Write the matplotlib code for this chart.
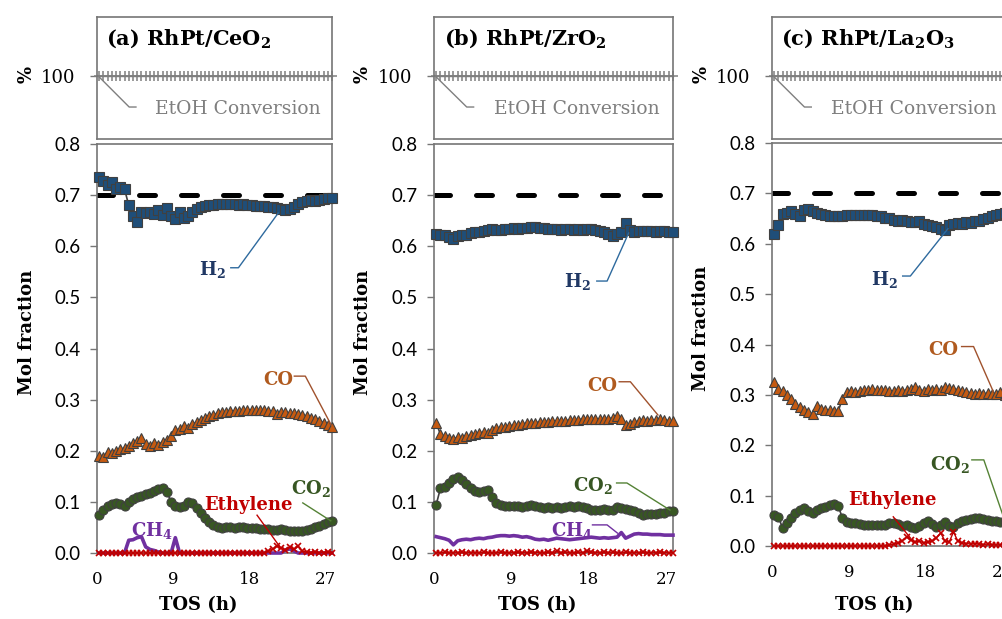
import numpy as np
import matplotlib
matplotlib.use('Agg')
import matplotlib.pyplot as plt

plt.rcParams['font.family'] = ['DejaVu Serif']
plt.rcParams['mathtext.default'] = 'regular'

# time on stream (h)
tos = [0.25, 0.75, 1.25, 1.75, 2.25, 2.75, 3.25, 3.75, 4.25, 4.75,
       5.25, 5.75, 6.25, 6.75, 7.25, 7.75, 8.25, 8.75, 9.25, 9.75,
       10.25, 10.75, 11.25, 11.75, 12.25, 12.75, 13.25, 13.75, 14.25, 14.75,
       15.25, 15.75, 16.25, 16.75, 17.25, 17.75, 18.25, 18.75, 19.25, 19.75,
       20.25, 20.75, 21.25, 21.75, 22.25, 22.75, 23.25, 23.75, 24.25, 24.75,
       25.25, 25.75, 26.25, 26.75, 27.25, 27.75]

# EtOH conversion (%), full conversion for all three catalysts
etoh_conv = [100, 100, 100, 100, 100, 100, 100, 100, 100, 100,
             100, 100, 100, 100, 100, 100, 100, 100, 100, 100,
             100, 100, 100, 100, 100, 100, 100, 100, 100, 100,
             100, 100, 100, 100, 100, 100, 100, 100, 100, 100,
             100, 100, 100, 100, 100, 100, 100, 100, 100, 100,
             100, 100, 100, 100, 100, 100]

# (a) RhPt/CeO2
h2_ce = [0.735, 0.728, 0.72, 0.725, 0.712, 0.715, 0.712, 0.68, 0.66, 0.648,
         0.668, 0.665, 0.667, 0.664, 0.67, 0.662, 0.675, 0.66, 0.653, 0.668,
         0.655, 0.66, 0.668, 0.673, 0.676, 0.678, 0.68, 0.681, 0.682, 0.683,
         0.683, 0.682, 0.682, 0.681, 0.682, 0.68, 0.68, 0.679, 0.678, 0.678,
         0.676, 0.677, 0.675, 0.672, 0.67, 0.672, 0.676, 0.682, 0.686, 0.688,
         0.69, 0.688, 0.69, 0.692, 0.694, 0.695]
co_ce = [0.19, 0.188, 0.198, 0.195, 0.2, 0.203, 0.205, 0.21, 0.215, 0.22,
         0.225, 0.213, 0.21, 0.215, 0.212, 0.218, 0.222, 0.228, 0.24, 0.243,
         0.248, 0.245, 0.252, 0.256, 0.26, 0.264, 0.268, 0.27, 0.273, 0.275,
         0.276, 0.277, 0.278, 0.278, 0.279, 0.279, 0.28, 0.279, 0.28, 0.279,
         0.278, 0.277, 0.272, 0.276, 0.275, 0.274, 0.273, 0.271, 0.27, 0.268,
         0.265, 0.262, 0.258, 0.255, 0.25, 0.246]
co2_ce = [0.075, 0.085, 0.092, 0.095, 0.098, 0.095, 0.092, 0.1, 0.105, 0.11,
          0.112, 0.115, 0.118, 0.122, 0.126, 0.127, 0.12, 0.1, 0.092, 0.09,
          0.092, 0.1, 0.098, 0.088, 0.078, 0.068, 0.06, 0.054, 0.05, 0.048,
          0.05, 0.05, 0.049, 0.05, 0.05, 0.049, 0.048, 0.049, 0.047, 0.046,
          0.046, 0.045, 0.045, 0.046, 0.045, 0.044, 0.044, 0.043, 0.044, 0.045,
          0.047, 0.05, 0.053, 0.057, 0.06, 0.062]
ch4_ce = [0, 0, 0, 0, 0, 0, 0, 0.025, 0.026, 0.03,
          0.032, 0.012, 0.007, 0.005, 0.002, 0, 0, 0, 0.03, 0,
          0, 0, 0, 0, 0, 0, 0, 0, 0, 0,
          0, 0, 0, 0, 0, 0, 0, 0, 0, 0,
          0, 0, 0, 0, 0.006, 0.008, 0.004, 0, 0, 0,
          0, 0, 0, 0, 0, 0]
eth_ce = [0, 0, 0, 0, 0, 0, 0, 0, 0, 0,
          0, 0, 0, 0, 0, 0, 0, 0, 0, 0,
          0, 0, 0, 0, 0, 0, 0, 0, 0, 0,
          0, 0, 0, 0, 0, 0, 0, 0, 0, 0,
          0.004, 0.008, 0.013, 0.009, 0.005, 0.012, 0.007, 0.013, 0.004, 0.002,
          0.001, 0.002, 0.0, 0.001, 0.002, 0.001]

# (b) RhPt/ZrO2
h2_zr = [0.625, 0.623, 0.622, 0.618, 0.614, 0.62, 0.622, 0.623, 0.626, 0.628,
         0.628, 0.63, 0.632, 0.633, 0.632, 0.632, 0.633, 0.634, 0.635, 0.634,
         0.635, 0.636, 0.637, 0.637, 0.635, 0.636, 0.634, 0.633, 0.634, 0.632,
         0.633, 0.634, 0.632, 0.633, 0.632, 0.634, 0.633, 0.632, 0.63, 0.628,
         0.625, 0.62, 0.624, 0.628, 0.645, 0.632, 0.627, 0.63, 0.63, 0.629,
         0.63, 0.628, 0.629, 0.63, 0.628, 0.628]
co_zr = [0.255, 0.232, 0.228, 0.225, 0.224, 0.226, 0.225, 0.228, 0.23, 0.233,
         0.235, 0.236, 0.235, 0.24, 0.244, 0.246, 0.247, 0.248, 0.25, 0.251,
         0.252, 0.254, 0.255, 0.255, 0.256, 0.257, 0.257, 0.258, 0.258, 0.258,
         0.259, 0.26, 0.26, 0.261, 0.262, 0.263, 0.262, 0.263, 0.262, 0.262,
         0.263, 0.264, 0.268, 0.262, 0.25, 0.252, 0.256, 0.258, 0.26, 0.259,
         0.261, 0.26, 0.262, 0.26, 0.259, 0.258]
co2_zr = [0.094, 0.127, 0.13, 0.137, 0.145, 0.148, 0.143, 0.135, 0.128, 0.122,
          0.12, 0.121, 0.123, 0.11, 0.098, 0.094, 0.092, 0.091, 0.092, 0.091,
          0.09, 0.092, 0.094, 0.092, 0.09, 0.089, 0.09, 0.088, 0.09, 0.089,
          0.09, 0.091, 0.09, 0.091, 0.09, 0.089, 0.084, 0.085, 0.084, 0.086,
          0.085, 0.084, 0.09, 0.089, 0.086, 0.084, 0.083, 0.078, 0.075, 0.076,
          0.077, 0.077, 0.078, 0.079, 0.082, 0.082]
ch4_zr = [0.032, 0.03, 0.028, 0.025, 0.016, 0.024, 0.026, 0.027, 0.026, 0.028,
          0.029, 0.028, 0.03, 0.031, 0.033, 0.034, 0.034, 0.033, 0.034, 0.033,
          0.031, 0.032, 0.03, 0.027, 0.026, 0.027, 0.025, 0.027, 0.029, 0.028,
          0.027, 0.026, 0.027, 0.028, 0.029, 0.03, 0.031, 0.03, 0.029, 0.03,
          0.029, 0.03, 0.031, 0.04, 0.029, 0.033, 0.037, 0.038, 0.037, 0.037,
          0.036, 0.036, 0.036, 0.035, 0.035, 0.035]
eth_zr = [0.001, 0.0, 0.002, 0.001, 0.0, 0.001, 0.002, 0.0, 0.001, 0.001,
          0.0, 0.002, 0.001, 0.0, 0.001, 0.002, 0.001, 0.0, 0.001, 0.002,
          0.001, 0.0, 0.002, 0.001, 0.001, 0.0, 0.002, 0.001, 0.003, 0.001,
          0.002, 0.001, 0.0, 0.002, 0.001, 0.003, 0.002, 0.001, 0.0, 0.002,
          0.001, 0.002, 0.001, 0.0, 0.002, 0.001, 0.001, 0.0, 0.002, 0.001,
          0.0, 0.001, 0.002, 0.001, 0.0, 0.001]

# (c) RhPt/La2O3
h2_la = [0.62, 0.637, 0.66, 0.662, 0.665, 0.66, 0.655, 0.668, 0.67, 0.665,
         0.662, 0.66, 0.657, 0.655, 0.656, 0.655, 0.656, 0.657, 0.657, 0.658,
         0.658, 0.657, 0.658, 0.657, 0.656, 0.655, 0.652, 0.652, 0.648, 0.646,
         0.647, 0.645, 0.644, 0.643, 0.645, 0.64, 0.638, 0.635, 0.633, 0.63,
         0.628, 0.637, 0.64, 0.642, 0.64, 0.643, 0.642, 0.645, 0.645, 0.65,
         0.652, 0.655, 0.658, 0.66, 0.662, 0.664]
co_la = [0.325, 0.312, 0.308, 0.3, 0.292, 0.282, 0.275, 0.27, 0.266, 0.262,
         0.278, 0.272, 0.27, 0.27, 0.269, 0.268, 0.292, 0.305, 0.308, 0.305,
         0.308, 0.309, 0.31, 0.311, 0.31, 0.309, 0.31, 0.308, 0.307, 0.309,
         0.307, 0.31, 0.312, 0.315, 0.31, 0.308, 0.311, 0.309, 0.312, 0.31,
         0.315, 0.313, 0.312, 0.31, 0.308, 0.305, 0.303, 0.302, 0.304, 0.302,
         0.303, 0.301, 0.302, 0.305, 0.3, 0.298]
co2_la = [0.062, 0.058, 0.035, 0.045, 0.055, 0.066, 0.072, 0.075, 0.07, 0.066,
          0.072, 0.076, 0.078, 0.081, 0.084, 0.08, 0.055, 0.048, 0.045, 0.046,
          0.043, 0.042, 0.041, 0.041, 0.042, 0.041, 0.042, 0.045, 0.046, 0.044,
          0.04, 0.042, 0.038, 0.036, 0.04, 0.046, 0.05, 0.043, 0.038, 0.042,
          0.048, 0.04, 0.038, 0.046, 0.05, 0.052, 0.054, 0.055, 0.055, 0.054,
          0.052, 0.05, 0.049, 0.048, 0.047, 0.046]
eth_la = [0, 0, 0, 0, 0, 0, 0, 0, 0, 0,
          0, 0, 0, 0, 0, 0, 0, 0, 0, 0,
          0, 0, 0, 0, 0, 0, 0, 0.002, 0.004, 0.006,
          0.01, 0.018, 0.012, 0.008, 0.01, 0.006, 0.008, 0.01, 0.016, 0.026,
          0.01, 0.008, 0.028, 0.01, 0.006, 0.005, 0.004, 0.005, 0.004, 0.003,
          0.004, 0.003, 0.002, 0.003, 0.002, 0.002]

h2_target = 0.7
xticks = [0, 9, 18, 27]

C_H2, C_CO, C_CO2, C_CH4, C_ETH = '#1F4E79', '#C55A11', '#385723', '#7030A0', '#C00000'
EDGE = '#404040'
SPINE = '#767676'
SANS = 'Lato'


def style_spines(ax):
    for s in ax.spines.values():
        s.set_color(SPINE)
        s.set_linewidth(1.2)


def callout(ax, label, txy, path, color, lcolor, size=13):
    ax.text(txy[0], txy[1], label, color=color, ha='center', va='center',
            fontsize=size, fontweight='bold')
    xs = [p[0] for p in path]
    ys = [p[1] for p in path]
    ax.plot(xs, ys, color=lcolor, lw=1.0, clip_on=False, zorder=6)


def draw_panel(fig, left, width, bottom, height, title, h2, co, co2, ch4, eth, xlab_y):
    # top: EtOH conversion strip
    at = fig.add_axes([left, 0.7754, width, 0.1971])
    at.plot(tos, etoh_conv, color='#7F7F7F', lw=1, marker='+', ms=7, mew=1.1, clip_on=False)
    at.set_xlim(0, 27.75)
    at.set_ylim(80, 118.5)
    at.set_yticks([100])
    at.set_xticks([])
    at.tick_params(axis='y', direction='out', length=5, width=1, color=SPINE,
                   labelsize=13, pad=11)
    at.set_ylabel('%', fontsize=13, fontweight='bold', rotation=90)
    at.yaxis.set_label_coords(-0.26, 0.53)
    at.text(0.04, 0.82, title, transform=at.transAxes, ha='left', va='center',
            fontsize=15, fontweight='bold')
    at.text(16.6, 89.5, 'EtOH Conversion', color='#7F7F7F', ha='center', va='center',
            fontsize=13.5)
    at.plot([0.1, 3.8, 4.6], [100, 90.1, 90.1], color='#7F7F7F', lw=1.0)
    style_spines(at)

    # bottom: product mol fractions
    ax = fig.add_axes([left, bottom, width, height])
    ax.axhline(h2_target, color='black', lw=3.6, dashes=(3.2, 5.2),
               dash_capstyle='round', zorder=1)
    ax.plot(tos, h2, color=EDGE, lw=1.2, marker='s', ms=6.5, mfc=C_H2, mec=EDGE,
            mew=0.8, clip_on=False, zorder=3)
    ax.plot(tos, co, color=EDGE, lw=1.2, marker='^', ms=6.5, mfc=C_CO, mec=EDGE,
            mew=0.8, clip_on=False, zorder=3)
    ax.plot(tos, co2, color=EDGE, lw=1.2, marker='o', ms=6.5, mfc=C_CO2, mec=EDGE,
            mew=0.8, clip_on=False, zorder=3)
    if ch4 is not None:
        ax.plot(tos, ch4, color=C_CH4, lw=2.6, clip_on=False, zorder=3)
    ax.plot(tos, eth, color=C_ETH, lw=1.0, marker='x', ms=4.5, mew=1.2,
            clip_on=False, zorder=4)

    ax.set_xlim(0, 27.75)
    ax.set_ylim(0, 0.8)
    ax.set_yticks(np.arange(0, 0.81, 0.1))
    ax.set_yticklabels(['%.1f' % v for v in np.arange(0, 0.81, 0.1)], fontfamily=SANS)
    ax.set_xticks(xticks)
    ax.tick_params(axis='y', direction='out', length=5, width=1, color=SPINE,
                   labelsize=13.5, pad=7)
    ax.tick_params(axis='x', length=0, labelsize=12, pad=13)
    ax.set_ylabel('Mol fraction', fontsize=13, fontweight='bold')
    ax.yaxis.set_label_coords(-0.26, 0.54)
    ax.set_xlabel('TOS (h)', fontsize=13, fontweight='bold')
    ax.xaxis.set_label_coords(0.43, xlab_y)
    style_spines(ax)
    return ax


fig = plt.figure(figsize=(10.03, 6.19), dpi=100)

ax_a = draw_panel(fig, 97 / 1003, 235 / 1003, 0.1066, 0.6607, r'(a) RhPt/CeO$_2$',
                  h2_ce, co_ce, co2_ce, ch4_ce, eth_ce, -43 / 409)
callout(ax_a, r'H$_2$', (13.6, 0.554), [(15.8, 0.558), (16.7, 0.558), (21.4, 0.665)],
        '#203864', '#2E6A9E')
callout(ax_a, 'CO', (21.4, 0.339), [(23.3, 0.346), (24.6, 0.346), (27.7, 0.249)],
        '#B05A1E', '#A0522D')
callout(ax_a, r'CO$_2$', (25.2, 0.127), [(24.3, 0.098), (27.6, 0.063)],
        '#375623', '#548235')
callout(ax_a, 'Ethylene', (17.9, 0.094), [(18.9, 0.074), (21.6, 0.012)],
        C_ETH, C_ETH)
ax_a.text(6.5, 0.045, r'CH$_4$', color=C_CH4, ha='center', va='center',
          fontsize=13, fontweight='bold')

ax_b = draw_panel(fig, 434 / 1003, 239 / 1003, 0.1066, 0.6607, r'(b) RhPt/ZrO$_2$',
                  h2_zr, co_zr, co2_zr, ch4_zr, eth_zr, -43 / 409)
callout(ax_b, r'H$_2$', (16.7, 0.532), [(18.9, 0.532), (20.1, 0.532), (22.6, 0.626)],
        '#203864', '#2E6A9E')
callout(ax_b, 'CO', (19.5, 0.327), [(21.5, 0.335), (22.8, 0.335), (26.0, 0.27)],
        '#B05A1E', '#A0522D')
callout(ax_b, r'CO$_2$', (18.4, 0.133), [(21.2, 0.137), (22.4, 0.137), (27.4, 0.084)],
        '#375623', '#548235')
callout(ax_b, r'CH$_4$', (16.0, 0.045), [(18.4, 0.055), (20.1, 0.055), (21.3, 0.039)],
        C_CH4, C_CH4)

ax_c = draw_panel(fig, 772 / 1003, 237 / 1003, 0.1179, 0.651, r'(c) RhPt/La$_2$O$_3$',
                  h2_la, co_la, co2_la, None, eth_la, -50 / 403)
callout(ax_c, r'H$_2$', (13.2, 0.53), [(15.3, 0.536), (16.2, 0.536), (20.6, 0.63)],
        '#203864', '#2E6A9E')
callout(ax_c, 'CO', (20.1, 0.39), [(22.2, 0.396), (23.6, 0.396), (25.9, 0.307)],
        '#B05A1E', '#A0522D')
callout(ax_c, r'CO$_2$', (20.8, 0.161), [(23.4, 0.171), (24.8, 0.171), (27.1, 0.058)],
        '#375623', '#548235')
callout(ax_c, 'Ethylene', (14.1, 0.092), [(14.2, 0.058), (16.2, 0.016)],
        C_ETH, C_ETH)

fig.savefig('out.png', dpi=100)
